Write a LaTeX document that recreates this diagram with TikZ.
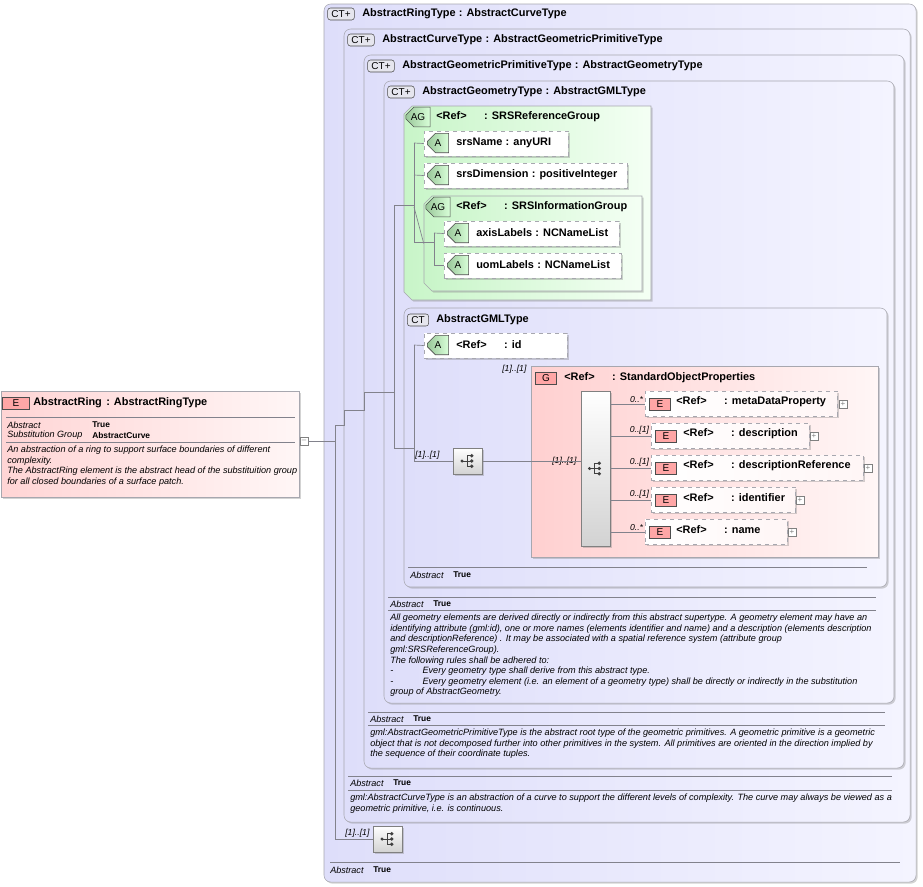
\documentclass[tikz,border=0pt]{standalone}
\usepackage{fontspec}
\setmainfont{Liberation Sans}
\usetikzlibrary{fit,shadows,shapes.misc,positioning}
\definecolor{ctColor}{RGB}{222,222,250}
\definecolor{ctLight}{RGB}{244,244,255}
\definecolor{agColor}{RGB}{200,245,200}
\definecolor{agLight}{RGB}{244,255,244}
\definecolor{elColor}{RGB}{255,208,208}
\definecolor{elLight}{RGB}{255,246,246}
\definecolor{lineColor}{RGB}{130,130,140}
\tikzset{box/.style={draw=lineColor!70, inner sep=0pt, drop shadow={opacity=.35, shadow xshift=1.2pt, shadow yshift=-1.2pt}}}
\tikzset{ctbox/.style={box, rounded corners=5pt, left color=ctColor, right color=ctLight}}
\tikzset{agbox/.style={box, chamfered rectangle, chamfered rectangle corners={north west,south west}, chamfered rectangle xsep=3pt, chamfered rectangle ysep=3pt, left color=agColor, right color=agLight}}
\tikzset{grbox/.style={box, left color=elColor, right color=elLight}}
\tikzset{attbox/.style={box, dashed, fill=white}}
\tikzset{elbox/.style={attbox, left color=white, right color=elLight}}
\tikzset{icon/.style={draw=black!70, font=\fontsize{7.5}{8}\selectfont, inner sep=1.2pt, minimum height=9pt}}
\tikzset{cticon/.style={icon, rounded corners=2pt, fill=ctColor!70!gray!40, minimum width=20pt}}
\tikzset{aicon/.style={icon, chamfered rectangle, chamfered rectangle corners={north west,south west}, chamfered rectangle xsep=2.5pt, left color=green!45!black!40, right color=green!15, minimum width=16pt}}
\tikzset{eicon/.style={icon, fill=elColor!80!red, minimum width=16pt}}
\tikzset{title/.style={anchor=west, font=\bfseries\fontsize{8.2}{9}\selectfont, inner sep=0pt}}
\tikzset{small/.style={anchor=west, font=\fontsize{6.8}{8}\selectfont, inner sep=0pt}}
\tikzset{doc/.style={anchor=north west, align=left, font=\itshape\fontsize{6.85}{7.9}\selectfont, inner sep=0pt}}
\tikzset{card/.style={anchor=south east, font=\itshape\fontsize{6.5}{7}\selectfont, inner sep=1pt}}
\tikzset{sep/.style={draw=lineColor}}
\tikzset{tree/.style={draw=lineColor, line width=.5pt}}
\tikzset{seqicon/.style={box, draw=gray, top color=white, bottom color=gray!35, path picture={
  \coordinate (c) at (path picture bounding box.center);
  \fill[black!75] ([xshift=-4.5pt]c) circle (1.3pt);
  \draw[black!75, line width=.6pt] ([xshift=-4.5pt]c) -- ([xshift=-0.5pt]c)
     ([xshift=-0.5pt,yshift=-4pt]c) -- ([xshift=-0.5pt,yshift=4pt]c);
  \foreach \dy in {-4,0,4} {
    \draw[black!75, line width=.6pt] ([xshift=-0.5pt,yshift=\dy pt]c) -- ([xshift=2.5pt,yshift=\dy pt]c);
    \fill[black!75] ([xshift=2.8pt,yshift=\dy pt]c) circle (1.4pt);}}}}
\tikzset{plusbox/.style={draw=gray, fill=white, minimum size=6pt, inner sep=0pt, font=\fontsize{6}{6}\selectfont, text=gray}}
\begin{document}
\begin{tikzpicture}[x=0.75pt, y=-0.75pt]
\useasboundingbox (0,0) rectangle (923,886);
% Nodes
\node[grbox, left color=elColor!90, right color=elLight, fit={(1,391)(299,497)}] (Ring) {};
\node[eicon, minimum width=20pt] (RingIcon) at (16,403) {E};
\node[title] at (33,403) {AbstractRing\hspace{.4em}: AbstractRingType};
\draw[sep] (6,417) -- (295,417) (6,442) -- (295,442);
\node[small, font=\itshape\fontsize{6.8}{8}\selectfont] at (7,425) {Abstract};
\node[small, font=\bfseries\fontsize{6.3}{8}\selectfont] at (92,425) {True};
\node[small, font=\itshape\fontsize{6.8}{8}\selectfont] at (7,435) {Substitution Group};
\node[small, font=\bfseries\fontsize{6.3}{8}\selectfont] at (92,435) {AbstractCurve};
\node[doc] at (7,446) {An abstraction of a ring to support surface boundaries of different\\complexity.\\The AbstractRing element is the abstract head of the substituition group\\for all closed boundaries of a surface patch.};
\node[plusbox] (RingMinus) at (304,441) {--};

\node[ctbox, fit={(324,4)(916,882)}] (RingType) {};
\node[cticon] at (341,14) {CT+};
\node[title] at (362,14) {AbstractRingType\hspace{.3em}: AbstractCurveType};
\node[ctbox, fit={(344,29)(910,822)}] (CurveType) {};
\node[cticon] at (361,40) {CT+};
\node[title] at (382,40) {AbstractCurveType\hspace{.3em}: AbstractGeometricPrimitiveType};
\node[ctbox, fit={(364,55)(904,768)}] (PrimitiveType) {};
\node[cticon] at (381,66) {CT+};
\node[title] at (402,66) {AbstractGeometricPrimitiveType\hspace{.3em}: AbstractGeometryType};
\node[ctbox, fit={(384,81)(894,703)}] (GeometryType) {};
\node[cticon] at (401,92) {CT+};
\node[title] at (422,92) {AbstractGeometryType\hspace{.3em}: AbstractGMLType};

% SRS groups
\node[agbox, fit={(408,110)(647,296)}] (SRSRef) {};
\node[aicon] at (418,117) {AG};
\node[title] at (436,117) {<Ref>\hspace{1.6em}: SRSReferenceGroup};
\node[attbox, fit={(424,131)(568,156)}] (srsName) {};
\node[aicon] at (438,143) {A};
\node[title] at (456,143) {srsName\hspace{.3em}: anyURI};
\node[attbox, fit={(424,163)(627,188)}] (srsDimension) {};
\node[aicon] at (438,175) {A};
\node[title] at (456,175) {srsDimension\hspace{.3em}: positiveInteger};
\node[agbox, fit={(428,200)(638,287)}] (SRSInfo) {};
\node[aicon] at (438,207) {AG};
\node[title] at (456,207) {<Ref>\hspace{1.6em}: SRSInformationGroup};
\node[attbox, fit={(444,221)(619,246)}] (axisLabels) {};
\node[aicon] at (458,233) {A};
\node[title] at (476,233) {axisLabels\hspace{.3em}: NCNameList};
\node[attbox, fit={(444,253)(621,278)}] (uomLabels) {};
\node[aicon] at (458,265) {A};
\node[title] at (476,265) {uomLabels\hspace{.3em}: NCNameList};

% GML type
\node[ctbox, fit={(404,308)(887,587)}] (GMLType) {};
\node[cticon, minimum width=16pt] at (418,320) {CT};
\node[title] at (436,320) {AbstractGMLType};
\node[attbox, fit={(424,333)(567,358)}] (id) {};
\node[aicon] at (438,345) {A};
\node[title] at (456,345) {<Ref>\hspace{1.6em}: id};
\node[seqicon, minimum width=21.75pt, minimum height=19.5pt] (GMLSeq) at (468,461) {};
\node[card] at (441,461) {[1]..[1]};
\node[grbox, fit={(531,366)(878,557)}] (StdProps) {};
\node[card] at (528,375) {[1]..[1]};
\node[eicon] at (546,378) {G};
\node[title] at (564,378) {<Ref>\hspace{1.6em}: StandardObjectProperties};
\node[seqicon, fit={(581,391)(610,546)}] (PropSeq) {};
\node[card] at (578,467) {[1]..[1]};

\node[elbox, fit={(645,391)(837,416)}] (metaDataProperty) {};
\node[eicon] at (660,404) {E};
\node[title] at (676,402) {<Ref>\hspace{1.6em}: metaDataProperty};
\node[plusbox] at (843,404) {+};
\node[elbox, fit={(651,423)(809,448)}] (description) {};
\node[eicon] at (666,436) {E};
\node[title] at (683,434) {<Ref>\hspace{1.6em}: description};
\node[plusbox] at (814,436) {+};
\node[elbox, fit={(651,455)(863,480)}] (descriptionReference) {};
\node[eicon] at (666,468) {E};
\node[title] at (683,466) {<Ref>\hspace{1.6em}: descriptionReference};
\node[plusbox] at (868,468) {+};
\node[elbox, fit={(651,487)(795,512)}] (identifier) {};
\node[eicon] at (666,500) {E};
\node[title] at (683,498) {<Ref>\hspace{1.6em}: identifier};
\node[plusbox] at (800,500) {+};
\node[elbox, fit={(645,519)(787,544)}] (name) {};
\node[eicon] at (660,532) {E};
\node[title] at (676,530) {<Ref>\hspace{1.6em}: name};
\node[plusbox] at (792,532) {+};

% Annotations
\draw[sep] (408,567) -- (867,567);
\node[small, font=\itshape\fontsize{6.8}{8}\selectfont] at (410,575) {Abstract};
\node[small, font=\bfseries\fontsize{6.3}{8}\selectfont] at (453,575) {True};
\draw[sep] (388,597) -- (876,597) (388,610) -- (876,610);
\node[small, font=\itshape\fontsize{6.8}{8}\selectfont] at (390,604) {Abstract};
\node[small, font=\bfseries\fontsize{6.3}{8}\selectfont] at (433,604) {True};
\node[doc] at (390,614) {All geometry elements are derived directly or indirectly from this abstract supertype. A geometry element may have an\\identifying attribute (gml:id), one or more names (elements identifier and name) and a description (elements description\\and descriptionReference) . It may be associated with a spatial reference system (attribute group\\gml:SRSReferenceGroup).\\The following rules shall be adhered to:\\-\hspace{3.2em}Every geometry type shall derive from this abstract type.\\-\hspace{3.2em}Every geometry element (i.e. an element of a geometry type) shall be directly or indirectly in the substitution\\group of AbstractGeometry.};
\draw[sep] (368,712) -- (885,712) (368,725) -- (885,725);
\node[small, font=\itshape\fontsize{6.8}{8}\selectfont] at (370,719) {Abstract};
\node[small, font=\bfseries\fontsize{6.3}{8}\selectfont] at (413,719) {True};
\node[doc] at (370,729) {gml:AbstractGeometricPrimitiveType is the abstract root type of the geometric primitives. A geometric primitive is a geometric\\object that is not decomposed further into other primitives in the system. All primitives are oriented in the direction implied by\\the sequence of their coordinate tuples.};
\draw[sep] (348,776) -- (892,776) (348,790) -- (892,790);
\node[small, font=\itshape\fontsize{6.8}{8}\selectfont] at (350,783) {Abstract};
\node[small, font=\bfseries\fontsize{6.3}{8}\selectfont] at (393,783) {True};
\node[doc] at (350,794) {gml:AbstractCurveType is an abstraction of a curve to support the different levels of complexity. The curve may always be viewed as a\\geometric primitive, i.e. is continuous.};
\node[seqicon, minimum width=21.75pt, minimum height=19.5pt] (RingSeq) at (388,839) {};
\node[card] at (371,839) {[1]..[1]};
\draw[sep] (330,862) -- (900,862);
\node[small, font=\itshape\fontsize{6.8}{8}\selectfont] at (330,870) {Abstract};
\node[small, font=\bfseries\fontsize{6.3}{8}\selectfont] at (373,870) {True};

% Tree junctions
\coordinate (j0) at (335,441);
\coordinate (j1) at (394,392);
\coordinate (j2) at (414,205);
\coordinate (j3) at (434,242);
\coordinate (j4) at (414,448);

% Connectors
\begin{scope}[tree]
\draw (RingMinus.east) -- (j0);
\draw (335,425) |- (RingSeq.west);
\draw (335,425) -- (344,425) -- (344,410) -- (364,410) -- (364,392) -- (j1);
\draw (394,205) -- (j2) (394,205) -- (394,448) -- (j4);
\draw (414,143) -- (414,242) -- (j3);
\draw (414,143) -- (srsName.west);
\draw (414,175) -- (srsDimension.west);
\draw (414,207) -- (SRSInfo.west);
\draw (434,233) -- (axisLabels.west);
\draw (434,233) |- (uomLabels.west);
\draw (414,345) -- (id.west);
\draw (414,345) |- (GMLSeq.west);
\draw (GMLSeq.east) -- (PropSeq.west |- GMLSeq.east);
\foreach \el/\y/\c in {metaDataProperty/404/0..*, description/436/0..[1], descriptionReference/468/0..[1], identifier/500/0..[1], name/532/0..*}
  \draw (610,\y) -- node[card, at end, anchor=south east] {\c} (\el.west |- 610,\y);
\end{scope}
\end{tikzpicture}
\end{document}
